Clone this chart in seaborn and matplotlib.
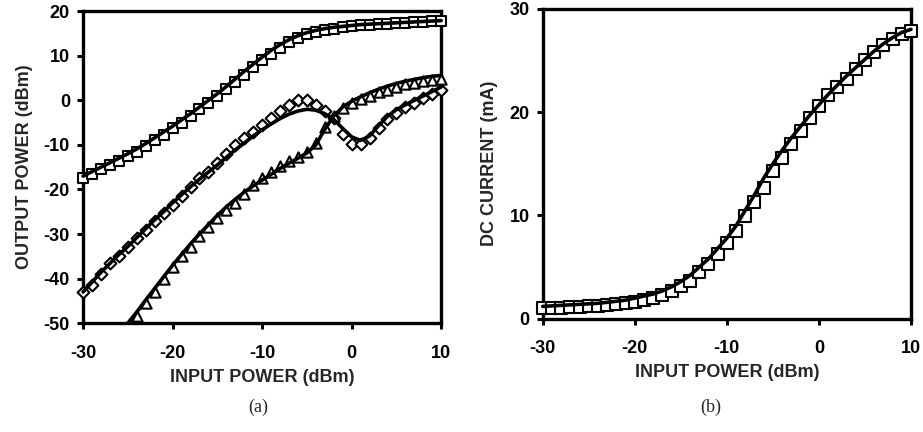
import numpy as np
import pandas as pd
import matplotlib
matplotlib.use("Agg")
import matplotlib.pyplot as plt
import seaborn as sns

# ---------------- data ----------------
pin = list(range(-30, 11))  # input power, dBm (1 dB step)

# (a) fundamental output power, measured (squares)
fund_meas = [-17.5, -16.5, -15.5, -14.5, -13.5, -12.5, -11.5, -10.3, -9.0, -7.7,
             -6.3, -5.0, -3.5, -2.0, -0.5, 1.0, 2.5, 4.2, 5.8, 7.4,
             9.0, 10.5, 11.8, 13.0, 14.0, 14.8, 15.3, 15.8, 16.1, 16.4,
             16.6, 16.8, 17.0, 17.1, 17.2, 17.3, 17.4, 17.5, 17.6, 17.7, 17.8]
fund_sim = [-17.0, -16.0, -15.0, -14.0, -13.0, -12.0, -10.9, -9.7, -8.4, -7.1,
            -5.8, -4.4, -3.0, -1.5, 0.0, 1.5, 3.1, 4.8, 6.5, 8.1,
            9.7, 11.2, 12.5, 13.6, 14.5, 15.2, 15.7, 16.1, 16.4, 16.6,
            16.8, 17.0, 17.1, 17.2, 17.3, 17.4, 17.5, 17.6, 17.7, 17.8, 17.9]

# (a) second harmonic, measured (diamonds) and simulated
h2_meas = [-43.0, -41.5, -39.0, -36.5, -35.0, -33.0, -31.0, -29.0, -27.0, -25.3,
           -23.5, -21.5, -19.5, -17.5, -16.0, -14.0, -12.0, -10.0, -8.5, -7.0,
           -5.5, -4.0, -2.5, -1.0, 0.0, 0.0, -1.0, -2.5, -4.0, -7.5,
           -9.8, -9.7, -8.5, -6.3, -4.2, -2.8, -1.5, -0.5, 0.5, 1.5, 2.4]
h2_sim = [-43.0, -40.8, -38.6, -36.6, -34.6, -32.8, -30.8, -28.8, -26.8, -25.0,
          -23.0, -21.2, -19.4, -17.7, -16.1, -14.5, -12.8, -11.1, -9.6, -8.0,
          -6.6, -5.3, -4.1, -3.1, -2.4, -2.0, -2.2, -3.0, -4.3, -6.3,
          -8.2, -9.0, -8.0, -5.7, -3.6, -2.1, -1.0, 0.0, 1.0, 2.0, 3.0]

# (a) third harmonic, measured (triangles) and simulated
pin3 = list(range(-24, 11))
h3_meas = [-48.5, -45.5, -43.0, -40.0, -37.5, -35.0, -33.0, -30.5, -28.5, -26.5,
           -24.5, -23.0, -21.0, -19.0, -17.5, -16.0, -14.8, -13.5, -12.8, -11.5,
           -9.5, -6.0, -3.6, -1.7, -0.6, 0.3, 0.9, 1.8, 2.4, 3.1,
           3.6, 3.9, 4.3, 4.5, 4.7]
pin3_sim = [-25.0, -24.0, -23.0, -22.0, -21.0, -20.0, -19.0, -18.0, -17.0, -16.0,
            -15.0, -14.0, -13.0, -12.0, -11.0, -10.0, -9.0, -8.0, -7.0, -6.0,
            -5.0, -4.0, -3.0, -2.0, -1.0, 0.0, 1.0, 2.0, 3.0, 4.0,
            5.0, 6.0, 7.0, 8.0, 9.0, 10.0]
h3_sim = [-50.0, -47.5, -44.8, -42.2, -39.6, -37.0, -34.6, -32.2, -30.0, -27.9,
          -25.8, -23.9, -22.2, -20.6, -19.2, -17.9, -16.6, -15.3, -14.1, -13.0,
          -11.8, -10.0, -6.5, -3.5, -1.5, -0.2, 0.8, 1.7, 2.5, 3.2,
          3.8, 4.3, 4.7, 5.1, 5.4, 5.6]

# (b) DC current (mA)
dc_meas = [1.0, 1.0, 1.05, 1.1, 1.15, 1.2, 1.25, 1.3, 1.4, 1.5,
           1.6, 1.8, 2.0, 2.3, 2.7, 3.2, 3.7, 4.5, 5.3, 6.3,
           7.3, 8.5, 9.9, 11.3, 12.7, 14.3, 15.6, 16.9, 18.2, 19.4,
           20.6, 21.6, 22.4, 23.2, 24.2, 25.0, 25.8, 26.5, 27.1, 27.5, 27.8]
dc_sim = [1.2, 1.25, 1.3, 1.35, 1.4, 1.45, 1.5, 1.6, 1.7, 1.8,
          2.0, 2.2, 2.4, 2.7, 3.1, 3.6, 4.2, 5.0, 5.8, 6.8,
          7.8, 9.0, 10.5, 12.0, 13.6, 15.0, 16.3, 17.5, 18.6, 19.7,
          20.7, 21.7, 22.6, 23.5, 24.3, 25.1, 25.9, 26.6, 27.2, 27.7, 28.0]

xticks = [-30, -20, -10, 0, 10]
yticks_a = [20, 10, 0, -10, -20, -30, -40, -50]
yticks_b = [0, 10, 20, 30]

# ---------------- style ----------------
sns.set_theme(style="ticks")
plt.rcParams['font.family'] = ['Liberation Sans', 'DejaVu Sans']
plt.rcParams['font.weight'] = 'bold'

fig = plt.figure(figsize=(9.23, 4.32), dpi=100)
ax1 = fig.add_axes([0.090, 0.252, 0.388, 0.722])
ax2 = fig.add_axes([0.588, 0.262, 0.399, 0.718])

mk = dict(facecolor="white", edgecolor="black", linewidth=1.5, zorder=3, legend=False)
ln = dict(color="black", linewidth=2.6, zorder=4, legend=False)

# (a)
sns.scatterplot(x=pin, y=fund_meas, marker="s", s=60, ax=ax1, **mk)
sns.lineplot(x=pin, y=fund_sim, ax=ax1, **ln)
sns.scatterplot(x=pin, y=h2_meas, marker="D", s=36, ax=ax1, **mk)
sns.lineplot(x=pin, y=h2_sim, ax=ax1, **ln)
sns.scatterplot(x=pin3, y=h3_meas, marker="^", s=55, ax=ax1, **mk)
sns.lineplot(x=pin3_sim, y=h3_sim, ax=ax1, **ln)

# (b)
sns.scatterplot(x=pin, y=dc_meas, marker="s", s=75, ax=ax2, **mk)
sns.lineplot(x=pin, y=dc_sim, ax=ax2, **ln)

for ax, yt, ylab, ylim in [(ax1, yticks_a, "OUTPUT POWER (dBm)", (-50, 20)),
                           (ax2, yticks_b, "DC CURRENT (mA)", (0, 30))]:
    ax.set_xlim(-30, 10)
    ax.set_ylim(*ylim)
    ax.set_xticks(xticks)
    ax.set_xticklabels([str(t) for t in xticks])
    ax.set_yticks(yt)
    ax.set_yticklabels([str(t) for t in yt])
    ax.set_xlabel("INPUT POWER (dBm)", fontsize=13, fontweight="bold", labelpad=5)
    ax.set_ylabel(ylab, fontsize=13, fontweight="bold", labelpad=8)
    for sp in ax.spines.values():
        sp.set_visible(True)
        sp.set_linewidth(2.4)
        sp.set_color("black")
    ax.tick_params(axis="both", direction="out", length=4.5, width=2.2,
                   labelsize=13, colors="black")
    ax.tick_params(axis="x", pad=11)
    ax.tick_params(axis="y", pad=5)
    for lab in ax.get_xticklabels() + ax.get_yticklabels():
        lab.set_fontweight("bold")
    for c in ax.collections + ax.lines:
        c.set_clip_on(False)

fig.text(0.280, 0.058, "(a)", family="Liberation Serif", fontsize=13,
         fontweight="normal", ha="center", va="center")
fig.text(0.770, 0.058, "(b)", family="Liberation Serif", fontsize=13,
         fontweight="normal", ha="center", va="center")

fig.savefig("out.png", dpi=100, facecolor="white")
